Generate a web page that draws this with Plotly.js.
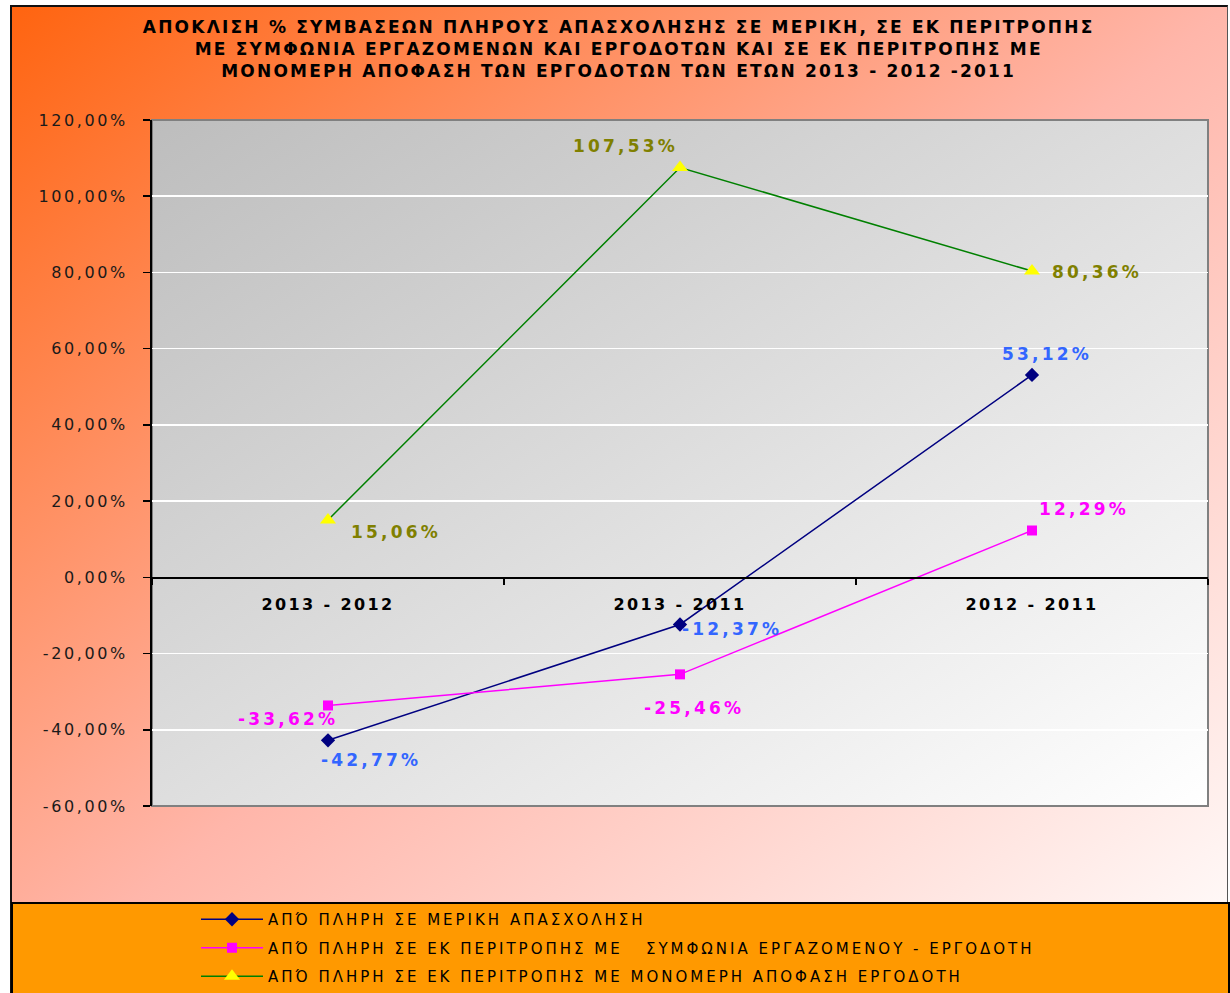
<!DOCTYPE html>
<html>
<head>
<meta charset="utf-8">
<script src="https://cdn.plot.ly/plotly-3.0.1.min.js"></script>
<style>
  body { margin: 0; background: #ffffff; }
  #frame { position: absolute; left: 10px; top: 5px; width: 1218px; height: 995px; box-sizing: border-box;
           border-left: 2px solid #111; border-top: 2px solid #111; border-right: 1px solid #555;
           background: linear-gradient(to bottom right, #FF6410 0%, #FFB6AA 50%, #FFFFFF 100%); }
  #plotbg { position: absolute; left: 152px; top: 120px; width: 1056px; height: 686px;
            background: linear-gradient(to bottom right, #BDBDBD 0%, #FFFFFF 100%); }
  #chart { position: absolute; left: 0; top: 0; width: 1230px; height: 993px; }
  .gtitle { letter-spacing: 2.2px; }
  .ytick text { letter-spacing: 2.6px; }
  .xtick text { letter-spacing: 2.4px; }
  .annotation-text { letter-spacing: 3.2px; }
  .legendtext { letter-spacing: 3px; }
</style>
</head>
<body>
<div id="frame"></div>
<div id="plotbg"></div>
<div id="chart"></div>
<script>
// ---- data ----
const categories = ['2013 - 2012', '2013 - 2011', '2012 - 2011'];
const seriesNames = [
  'ΑΠΌ ΠΛΗΡΗ ΣΕ ΜΕΡΙΚΗ ΑΠΑΣΧΟΛΗΣΗ',
  'ΑΠΌ ΠΛΗΡΗ ΣΕ ΕΚ ΠΕΡΙΤΡΟΠΗΣ ΜΕ   ΣΥΜΦΩΝΙΑ ΕΡΓΑΖΟΜΕΝΟΥ - ΕΡΓΟΔΟΤΗ',
  'ΑΠΌ ΠΛΗΡΗ ΣΕ ΕΚ ΠΕΡΙΤΡΟΠΗΣ ΜΕ ΜΟΝΟΜΕΡΗ ΑΠΟΦΑΣΗ ΕΡΓΟΔΟΤΗ'
];
const partTime = [-42.77, -12.37, 53.12];
const rotationAgreement = [-33.62, -25.46, 12.29];
const rotationUnilateral = [15.06, 107.53, 80.36];
const yTickValues = [-60, -40, -20, 0, 20, 40, 60, 80, 100, 120];
const chartTitle = 'ΑΠΟΚΛΙΣΗ % ΣΥΜΒΑΣΕΩΝ ΠΛΗΡΟΥΣ ΑΠΑΣΧΟΛΗΣΗΣ ΣΕ ΜΕΡΙΚΗ, ΣΕ ΕΚ ΠΕΡΙΤΡΟΠΗΣ<br>ΜΕ ΣΥΜΦΩΝΙΑ ΕΡΓΑΖΟΜΕΝΩΝ ΚΑΙ ΕΡΓΟΔΟΤΩΝ ΚΑΙ ΣΕ ΕΚ ΠΕΡΙΤΡΟΠΗΣ ΜΕ<br>ΜΟΝΟΜΕΡΗ ΑΠΟΦΑΣΗ ΤΩΝ ΕΡΓΟΔΟΤΩΝ ΤΩΝ ΕΤΩΝ 2013 - 2012 -2011';

// ---- styles ----
const fmt = v => v.toFixed(2).replace('.', ',') + '%';
const yTickText = yTickValues.map(fmt);
const seriesValues = [partTime, rotationAgreement, rotationUnilateral];
const lineColors = ['#000080', '#FF00FF', '#008000'];
const markerColors = ['#000080', '#FF00FF', '#FFFF00'];
const markerSymbols = ['diamond', 'square', 'triangle-up'];
const markerSizes = [11, 10, 14];
const labelColors = ['#3366FF', '#FF00FF', '#808000'];
// label offsets in px (xshift, yshift) per series per point
const labelShifts = [
  [[43, -20], [52, -5], [15, 21]],
  [[-40, -14], [14, -34], [52, 21]],
  [[68, -12], [-55, 22], [65, -1]]
];

const W = 1230, H = 993, mL = 152, mR = 22, mT = 120, mB = 187;
const plotH = H - mT - mB, plotW = W - mL - mR;
const pyPaper = px => (H - mB - px) / plotH;
const pxPaper = px => (px - mL) / plotW;

const traces = seriesValues.map((vals, i) => ({
  type: 'scatter', mode: 'lines+markers',
  x: categories, y: vals, name: seriesNames[i],
  legendgroup: 'g' + i,
  line: { color: lineColors[i], width: 1.5 },
  marker: { symbol: markerSymbols[i], size: markerSizes[i], color: markerColors[i], line: { width: 0 } },
  cliponaxis: false, hoverinfo: 'skip'
}));

const annotations = [];
seriesValues.forEach((vals, i) => {
  vals.forEach((v, j) => {
    annotations.push({
      x: categories[j], y: v, xref: 'x', yref: 'y', text: fmt(v), showarrow: false,
      xshift: labelShifts[i][j][0], yshift: labelShifts[i][j][1],
      font: { family: 'DejaVu Sans', size: 17, color: labelColors[i], weight: 'bold' }
    });
  });
});

const layout = {
  width: W, height: H,
  margin: { l: mL, r: mR, t: mT, b: mB, pad: 0, autoexpand: false },
  paper_bgcolor: 'rgba(0,0,0,0)', plot_bgcolor: 'rgba(0,0,0,0)',
  title: {
    text: chartTitle, xref: 'container', yref: 'container', x: 0.503, y: 1 - 33 / H,
    xanchor: 'center', yanchor: 'middle',
    font: { family: 'DejaVu Sans', size: 17, color: '#000', weight: 'bold' }
  },
  xaxis: {
    type: 'category', range: [-0.5, 2.5], anchor: 'free', position: (0 - (-60)) / 180,
    showline: true, linecolor: '#000', linewidth: 1.5, showgrid: false, zeroline: false,
    ticks: 'outside', tickson: 'boundaries', ticklen: 6, tickcolor: '#000', tickwidth: 1.5,
    ticklabelstandoff: 12,
    tickfont: { family: 'DejaVu Sans', size: 16, color: '#000', weight: 'bold' }
  },
  yaxis: {
    range: [-60, 120], tickvals: yTickValues, ticktext: yTickText,
    showline: true, linecolor: '#000', linewidth: 2, mirror: false,
    ticks: 'outside', ticklen: 7, tickcolor: '#000', tickwidth: 1.5,
    showgrid: true, gridcolor: '#FFFFFF', gridwidth: 1.5, zeroline: false,
    ticklabelstandoff: 12,
    tickfont: { family: 'DejaVu Sans', size: 16, color: '#1a1a1a' }
  },
  shapes: [
    { type: 'rect', xref: 'paper', yref: 'paper', x0: 0, x1: 1, y0: 0, y1: 1,
      line: { color: '#808080', width: 2 }, fillcolor: 'rgba(0,0,0,0)', layer: 'below' },
    { type: 'rect', xref: 'paper', yref: 'paper', x0: pxPaper(12), x1: pxPaper(1229), y0: pyPaper(903), y1: pyPaper(1005),
      line: { color: '#000', width: 2 }, fillcolor: '#FF9900', layer: 'below' }
  ],
  legend: {
    xref: 'paper', yref: 'paper', x: pxPaper(196), y: pyPaper(903),
    xanchor: 'left', yanchor: 'top', orientation: 'v',
    tracegroupgap: 6, itemwidth: 62,
    bgcolor: 'rgba(0,0,0,0)', borderwidth: 0,
    font: { family: 'DejaVu Sans', size: 15, color: '#000' }
  },
  annotations: annotations,
  showlegend: true
};

Plotly.newPlot('chart', traces, layout, { displayModeBar: false, staticPlot: true });
</script>
</body>
</html>
